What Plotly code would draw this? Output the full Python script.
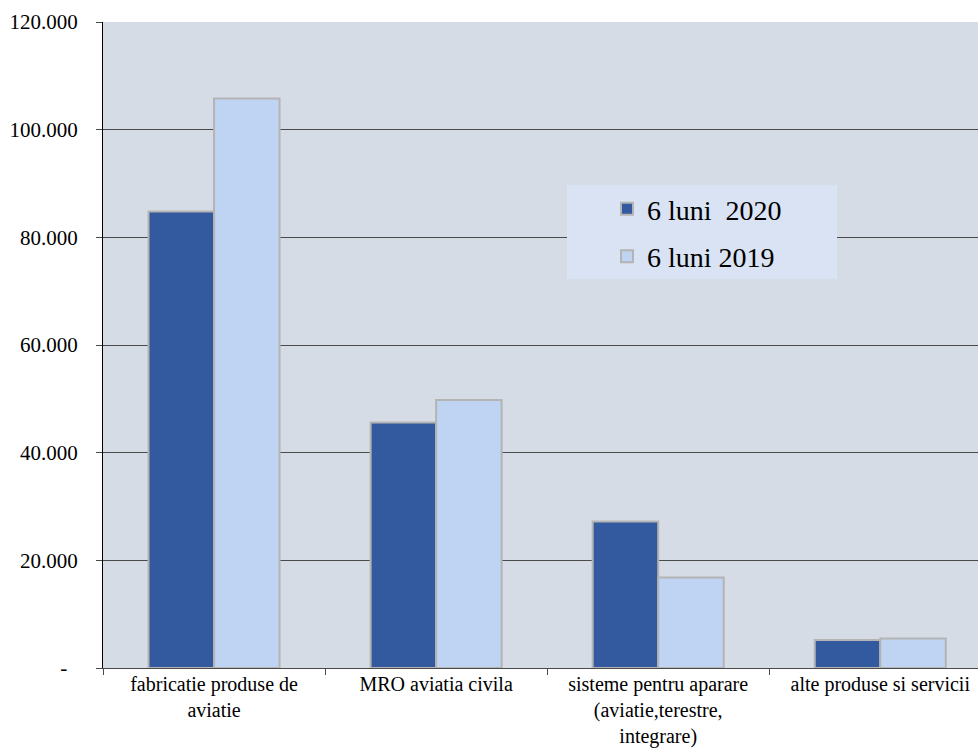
import plotly.graph_objects as go

categories = [
    "fabricatie produse de<br>aviatie",
    "MRO aviatia civila",
    "sisteme pentru aparare<br>(aviatie,terestre,<br>integrare)",
    "alte produse si servicii",
]
series_2020 = [84800, 45600, 27200, 5200]
series_2019 = [105800, 49800, 16800, 5500]
series_names = ["6 luni  2020", "6 luni 2019"]
y_tickvals = [0, 20000, 40000, 60000, 80000, 100000, 120000]
y_ticktext = ["-\u00a0\u00a0", "20.000", "40.000", "60.000", "80.000", "100.000", "120.000"]

font_family = "Liberation Serif"

fig = go.Figure()
fig.add_trace(go.Bar(
    x=categories, y=series_2020, name=series_names[0], legendgroup="a",
    marker=dict(color="#335a9e", line=dict(color="#b4b4b4", width=2)),
))
fig.add_trace(go.Bar(
    x=categories, y=series_2019, name=series_names[1], legendgroup="b",
    marker=dict(color="#bfd3f2", line=dict(color="#b4b4b4", width=2)),
))

# legend box background (drawn above gridlines, below the legend)
fig.add_shape(
    type="rect", xref="paper", yref="paper",
    x0=0.5303, x1=0.8389, y0=0.6022, y1=0.7477,
    fillcolor="#dae3f3", line=dict(width=0), layer="above",
)

fig.update_layout(
    width=978, height=751,
    margin=dict(l=103, r=0, t=22, b=83, autoexpand=False),
    paper_bgcolor="white",
    plot_bgcolor="#d6dce5",
    barmode="group",
    bargap=0.41,
    bargroupgap=0,
    font=dict(family=font_family, color="black", size=21),
    showlegend=True,
    legend=dict(
        x=0.576, y=0.749, xanchor="left", yanchor="top",
        bgcolor="rgba(0,0,0,0)",
        font=dict(size=28, family=font_family, color="black"),
        itemsizing="constant",
        tracegroupgap=8,
        traceorder="grouped",
    ),
)
fig.update_yaxes(
    range=[0, 120000],
    tickvals=y_tickvals, ticktext=y_ticktext,
    showgrid=True, gridcolor="#4a4a4a", gridwidth=1,
    showline=True, linecolor="black", linewidth=1,
    ticks="outside", ticklen=6, tickcolor="#4a4a4a",
    ticklabelstandoff=14,
    zeroline=False,
    automargin=False,
    tickfont=dict(size=21, family=font_family, color="black"),
)
fig.update_xaxes(
    range=[-0.5, 3.44],
    showline=True, linecolor="#4a4a4a", linewidth=1,
    ticks="outside", tickson="boundaries", ticklen=6, tickcolor="#4a4a4a",
    showgrid=False,
    automargin=False,
    ticklabelstandoff=-2,
    tickfont=dict(size=20, family=font_family, color="black"),
)

fig.write_html(
    "out.html",
    config={"displayModeBar": False},
    post_script="document.body.style.margin='0';document.body.style.overflow='hidden';",
)
